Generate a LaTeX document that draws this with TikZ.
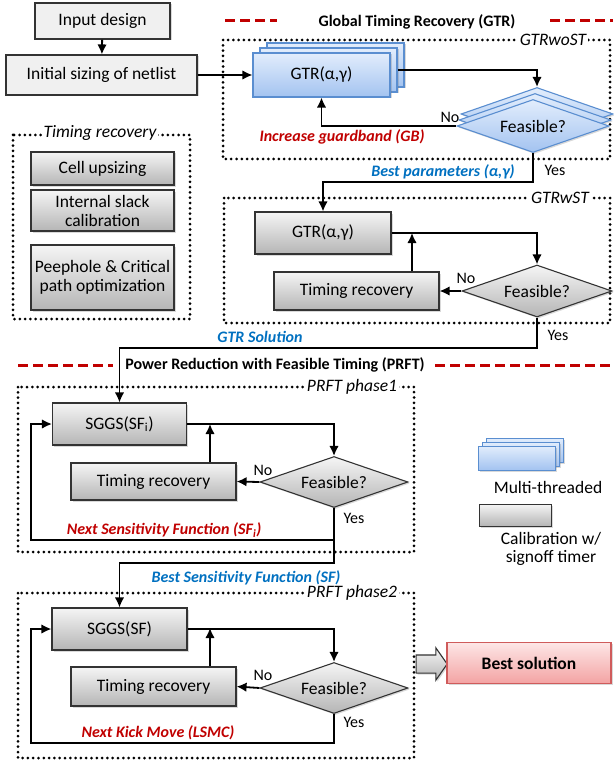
\documentclass[tikz,border=0pt]{standalone}
\usepackage{fontspec}
\setmainfont{Carlito}
\usetikzlibrary{shapes.geometric,shapes.arrows,arrows.meta,shadows}
\definecolor{gtop}{HTML}{F5F5F5}
\definecolor{gbot}{HTML}{B5B5B5}
\definecolor{flatc}{HTML}{F0F0F0}
\definecolor{bordc}{HTML}{333333}
\definecolor{btop}{HTML}{E2EDFC}
\definecolor{bbot}{HTML}{A3C3F0}
\definecolor{bluebord}{HTML}{5A8ED0}
\definecolor{ptop}{HTML}{FDE6E6}
\definecolor{pbot}{HTML}{F3A3A3}
\definecolor{pinkbord}{HTML}{CF5B5B}
\definecolor{labred}{HTML}{C00000}
\definecolor{labblue}{HTML}{0070C0}
\begin{document}
\begin{tikzpicture}[x=1pt,y=-1pt,
  font=\fontsize{17.5pt}{21pt}\selectfont,
  base/.style={draw=bordc, line width=1.1pt, inner sep=0pt, align=center,
    drop shadow={shadow xshift=1.5pt,shadow yshift=-1.5pt,opacity=0.3}},
  flatbox/.style={base, fill=flatc},
  graybox/.style={base, top color=gtop, bottom color=gbot},
  bluebox/.style={base, draw=bluebord, top color=btop, bottom color=bbot},
  pinkbox/.style={base, draw=pinkbord, top color=ptop, bottom color=pbot},
  graydia/.style={graybox, diamond, aspect=2.9},
  bluedia/.style={bluebox, diamond, aspect=2.9},
  conn/.style={line width=1.8pt, -{Latex[length=10pt,width=9.5pt]}},
  dotbox/.style={line width=3pt, dash pattern=on 0pt off 5.3pt, line cap=round},
  reddash/.style={draw=labred, line width=3pt, dash pattern=on 10pt off 5pt},
  hdr/.style={font=\fontsize{16pt}{19pt}\selectfont\bfseries, inner sep=1pt},
  redlab/.style={font=\fontsize{16pt}{19pt}\selectfont\bfseries\itshape, text=labred, inner sep=1pt},
  bluelab/.style={font=\fontsize{16pt}{19pt}\selectfont\bfseries\itshape, text=labblue, inner sep=1pt},
  yn/.style={font=\fontsize{16pt}{19pt}\selectfont, inner sep=1pt},
  boxlab/.style={font=\fontsize{17.5pt}{21pt}\selectfont\itshape, fill=white, inner sep=2pt},
  txt/.style={inner sep=1pt}
]
\useasboundingbox (0,0) rectangle (613,762);

% ---------------- dotted group boxes
\draw[dotbox] (223,40) rectangle (610,159);
\draw[dotbox] (224,198) rectangle (610,323);
\draw[dotbox] (13,135) rectangle (190,319);
\draw[dotbox] (18,387) rectangle (414,552);
\draw[dotbox] (18,593) rectangle (414,758);
\node[boxlab] (lwost) at (553,40) {GTRwoST};
\node[boxlab] (lwst) at (560,198) {GTRwST};
\node[boxlab] (ltr) at (100,133) {Timing recovery};
\node[boxlab] (lp1) at (352,387) {PRFT phase1};
\node[boxlab] (lp2) at (352,593) {PRFT phase2};

% ---------------- headers
\draw[reddash] (225,21) -- (277,21);
\draw[reddash] (550,21) -- (613,21);
\node[hdr] (hgtr) at (417,22) {Global Timing Recovery (GTR)};
\draw[reddash] (18,365) -- (113,365);
\draw[reddash] (435,365) -- (613,365);
\node[hdr] (hprft) at (275,365) {Power Reduction with Feasible Timing (PRFT)};

% ---------------- top-left boxes
\node[flatbox, minimum width=135pt, minimum height=36pt] (input) at (102.5,21) {Input design};
\node[flatbox, minimum width=191pt, minimum height=40pt] (init) at (101.5,75) {Initial sizing of netlist};

% ---------------- timing recovery group
\node[graybox, minimum width=143pt, minimum height=33pt] (cell) at (102.5,168.5) {Cell upsizing};
\node[graybox, minimum width=143pt, minimum height=41pt] (isc) at (102.5,210.5) {Internal slack\\[-2pt]calibration};
\node[graybox, minimum width=143pt, minimum height=65pt] (peep) at (102.5,277.5) {Peephole \& Critical\\[-2pt]path optimization};

% ---------------- GTRwoST
\node[bluebox, minimum width=137pt, minimum height=44pt] (gtr1c) at (335.5,65) {};
\node[bluebox, minimum width=137pt, minimum height=44pt] (gtr1b) at (328.5,70) {};
\node[bluebox, minimum width=137pt, minimum height=44pt] (gtr1) at (321.5,75) {GTR(α,γ)};
\node[bluedia, minimum width=152pt, minimum height=53pt] (feas1c) at (537,114) {};
\node[bluedia, minimum width=152pt, minimum height=53pt] (feas1b) at (535,120) {};
\node[bluedia, minimum width=152pt, minimum height=53pt] (feas1) at (533,126) {Feasible?};
\node[yn] (no1) at (450,117) {No};
\node[redlab] (lgb) at (342,137) {Increase guardband (GB)};
\node[yn] (yes1) at (555,170) {Yes};
\node[bluelab] (lbp) at (443,172) {Best parameters (α,γ)};

% ---------------- GTRwST
\node[graybox, minimum width=136pt, minimum height=42pt] (gtr2) at (323,233) {GTR(α,γ)};
\node[graybox, minimum width=165pt, minimum height=38pt] (tr1) at (356.5,291) {Timing recovery};
\node[graydia, minimum width=150pt, minimum height=52pt] (feas2) at (537,291) {Feasible?};
\node[yn] (no2) at (466,278) {No};
\node[yn] (yes2) at (558,335) {Yes};
\node[bluelab] (lgs) at (260,337) {GTR Solution};

% ---------------- PRFT phase 1
\node[graybox, minimum width=134pt, minimum height=42pt] (sggs1) at (119.5,424) {SGGS(SF\textsubscript{i})};
\node[graybox, minimum width=165pt, minimum height=37pt] (tr2) at (153.5,481.5) {Timing recovery};
\node[graydia, minimum width=148pt, minimum height=51pt] (feas3) at (334,482) {Feasible?};
\node[yn] (no3) at (263,470) {No};
\node[yn] (yes3) at (354,518) {Yes};
\node[redlab] (lnsf) at (164,530) {Next Sensitivity Function (SF\textsubscript{i})};
\node[bluelab] (lbsf) at (246,578) {Best Sensitivity Function (SF)};

% ---------------- PRFT phase 2
\node[graybox, minimum width=135pt, minimum height=42pt] (sggs2) at (119.5,629) {SGGS(SF)};
\node[graybox, minimum width=165pt, minimum height=39pt] (tr3) at (153.5,686.5) {Timing recovery};
\node[graydia, minimum width=148pt, minimum height=51pt] (feas4) at (334,688) {Feasible?};
\node[yn] (no4) at (263,675) {No};
\node[yn] (yes4) at (354,722) {Yes};
\node[redlab] (lkick) at (158,733) {Next Kick Move (LSMC)};

% ---------------- best solution
\node[graybox, single arrow, minimum height=31pt, minimum width=31pt,
      single arrow head extend=7pt, single arrow tip angle=110,
      inner xsep=0pt, inner ysep=8.5pt] (bigarrow) at (428.5,664) {};
\node[pinkbox, minimum width=164pt, minimum height=41pt, font=\fontsize{17.5pt}{21pt}\selectfont\bfseries] (best) at (529,663) {Best solution};

% ---------------- legend
\node[bluebox, minimum width=77pt, minimum height=24pt, line width=0.8pt] (legc) at (524.5,450) {};
\node[bluebox, minimum width=77pt, minimum height=24pt, line width=0.8pt] (legb) at (520.5,454) {};
\node[bluebox, minimum width=77pt, minimum height=24pt, line width=0.8pt] (lega) at (516.5,458) {};
\node[txt] (lmt) at (548,487) {Multi-threaded};
\node[graybox, minimum width=72pt, minimum height=22pt, line width=0.8pt] (legg) at (515,515) {};
\node[txt, align=center] (lcal) at (551,549) {Calibration w/\\[-3pt]signoff timer};

% ---------------- coordinates for bends
\coordinate (b1) at (533,182);
\coordinate (b2) at (537,348);
\coordinate (j0) at (412,233);
\coordinate (b3) at (334,540);
\coordinate (b4) at (31,540);
\coordinate (b5) at (334,563);
\coordinate (j1) at (210,424);
\coordinate (b6) at (334,743);
\coordinate (b7) at (31,743);
\coordinate (j2) at (210,628);

% ---------------- connectors
\draw[conn] (input) -- (init);
\draw[conn] (init.east) -- (gtr1.west);
\draw[conn] (gtr1b.east) -| (feas1c.north);
\draw[conn] (feas1.west) -| (gtr1.south);
\draw[conn] (feas1.south) -- (b1) -| (gtr2.north);

\draw[conn] (gtr2.east) -| (feas2.north);
\draw[conn] (feas2.west) -- (tr1.east);
\draw[conn] (tr1.north -| j0) -- (j0);
\draw[conn] (feas2.south) -- (b2) -| (sggs1.north);

\draw[conn] (sggs1.east) -| (feas3.north);
\draw[conn] (feas3.west) -- (tr2.east);
\draw[conn] (tr2.north -| j1) -- (j1);
\draw[conn] (feas3.south) -- (b3) -- (b4) |- (sggs1.west);
\draw[conn] (b3) -- (b5) -| (sggs2.north);

\draw[conn] (sggs2.east) -| (feas4.north);
\draw[conn] (feas4.west) -- (tr3.east);
\draw[conn] (tr3.north -| j2) -- (j2);
\draw[conn] (feas4.south) -- (b6) -- (b7) |- (sggs2.west);
\end{tikzpicture}
\end{document}
